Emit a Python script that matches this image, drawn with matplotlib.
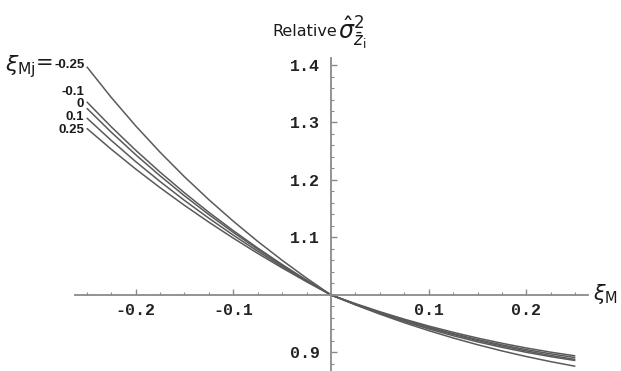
import matplotlib
matplotlib.use("Agg")
import matplotlib.pyplot as plt
from matplotlib.ticker import MultipleLocator

# xi_M grid and the relative variance curves, one per xi_Mj value
xi_m = [-0.25, -0.225, -0.2, -0.175, -0.15, -0.125, -0.1, -0.075, -0.05, -0.025, 0.0,
        0.025, 0.05, 0.075, 0.1, 0.125, 0.15, 0.175, 0.2, 0.225, 0.25]

rel_m025 = [1.3971, 1.3438, 1.2943, 1.2484, 1.2056, 1.1657, 1.1283, 1.0932, 1.0603, 1.0293, 1.0,
            0.9828, 0.9667, 0.9518, 0.9380, 0.9252, 0.9135, 0.9027, 0.8929, 0.8840, 0.8760]
rel_m010 = [1.3360, 1.2926, 1.2519, 1.2137, 1.1777, 1.1438, 1.1119, 1.0816, 1.0530, 1.0258, 1.0,
            0.9834, 0.9681, 0.9539, 0.9410, 0.9292, 0.9185, 0.9089, 0.9003, 0.8927, 0.8860]
rel_000 = [1.3249, 1.2833, 1.2441, 1.2073, 1.1725, 1.1398, 1.1088, 1.0794, 1.0516, 1.0251, 1.0,
           0.9841, 0.9693, 0.9556, 0.9430, 0.9314, 0.9208, 0.9112, 0.9026, 0.8948, 0.8879]
rel_p010 = [1.3080, 1.2690, 1.2321, 1.1974, 1.1645, 1.1335, 1.1040, 1.0760, 1.0494, 1.0241, 1.0,
            0.9843, 0.9698, 0.9564, 0.9441, 0.9328, 0.9225, 0.9133, 0.9049, 0.8976, 0.8911]
rel_p025 = [1.2899, 1.2536, 1.2192, 1.1867, 1.1559, 1.1266, 1.0988, 1.0723, 1.0471, 1.0230, 1.0,
            0.9849, 0.9709, 0.9579, 0.9460, 0.9351, 0.9251, 0.9160, 0.9078, 0.9005, 0.8941]

curves = [rel_m025, rel_m010, rel_000, rel_p010, rel_p025]
curve_labels = ["-0.25", "-0.1", "0", "0.1", "0.25"]
label_y = [1.400, 1.353, 1.332, 1.310, 1.287]

xticks = [-0.2, -0.1, 0.1, 0.2]
xtick_labels = ["-0.2", "-0.1", "0.1", "0.2"]
yticks = [0.9, 1.1, 1.2, 1.3, 1.4]
ytick_labels = ["0.9", "1.1", "1.2", "1.3", "1.4"]

fig = plt.figure(figsize=(6.21, 3.71), dpi=100)
ax = fig.add_axes([0.1208, 0.0, 0.8261, 0.8437])
ax.set_xlim(-0.262, 0.263)
ax.set_ylim(0.8678, 1.4122)

line_col = "#5a5a5a"
for vals in curves:
    ax.plot(xi_m, vals, color=line_col, linewidth=1.1, solid_capstyle="butt")

# curve labels on the left end
for lab, y in zip(curve_labels, label_y):
    ax.text(-0.2525, y, lab, ha="right", va="center", fontsize=9.5,
            fontweight="bold", family="Liberation Sans", color="#1a1a1a")

# Mathematica-style axes crossing at (0, 1)
axis_col = "#8a8a8a"
for s in ["top", "right"]:
    ax.spines[s].set_visible(False)
ax.spines["left"].set_position(("data", 0))
ax.spines["bottom"].set_position(("data", 1))
ax.spines["left"].set_color(axis_col)
ax.spines["bottom"].set_color(axis_col)
ax.spines["left"].set_linewidth(1.3)
ax.spines["bottom"].set_linewidth(1.3)

ax.set_xticks(xticks)
ax.set_xticklabels(xtick_labels)
ax.set_yticks(yticks)
ax.set_yticklabels(ytick_labels)
ax.xaxis.set_minor_locator(MultipleLocator(0.025))
ax.yaxis.set_minor_locator(MultipleLocator(0.02))
ax.tick_params(which="major", direction="in", length=4, width=1, color=axis_col)
ax.tick_params(which="minor", direction="in", length=2.5, width=0.8, color=axis_col)
ax.tick_params(axis="x", which="major", pad=6)
ax.tick_params(axis="y", which="major", pad=8)
for lbl in ax.get_xticklabels() + ax.get_yticklabels():
    lbl.set_family("Liberation Mono")
    lbl.set_fontweight("bold")
    lbl.set_fontsize(12)
    lbl.set_color("#222222")

# axis titles
fig.text(272 / 621, 1 - 32 / 371, "Relative", ha="left", va="center",
         fontsize=11.5, color="#1a1a1a")
fig.text(338 / 621, 1 - 33 / 371, r"$\hat{\sigma}^2_{\bar{z}_{\mathrm{i}}}$",
         ha="left", va="center", fontsize=17, color="#1a1a1a")
fig.text(593 / 621, 1 - 294 / 371, r"$\xi_{\mathrm{M}}$", ha="left", va="center",
         fontsize=15, color="#1a1a1a")
fig.text(5 / 621, 1 - 67 / 371, r"$\xi_{\mathrm{Mj}}$", ha="left", va="center",
         fontsize=16, color="#1a1a1a")
fig.text(36 / 621, 1 - 63 / 371, "=", ha="left", va="center",
         fontsize=15, color="#1a1a1a")

fig.savefig("out.png", dpi=100)
